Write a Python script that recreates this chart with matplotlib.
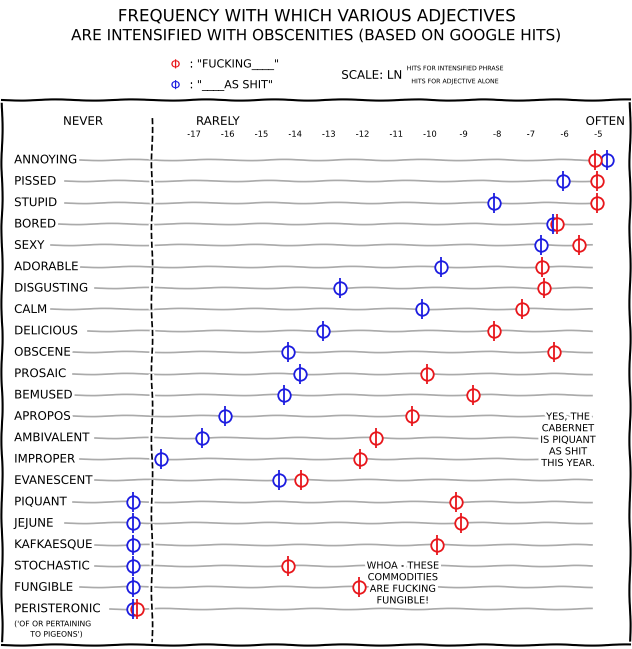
import matplotlib
matplotlib.use("Agg")
import matplotlib.pyplot as plt
import numpy as np

adjectives = ["ANNOYING","PISSED","STUPID","BORED","SEXY","ADORABLE","DISGUSTING","CALM",
              "DELICIOUS","OBSCENE","PROSAIC","BEMUSED","APROPOS","AMBIVALENT","IMPROPER",
              "EVANESCENT","PIQUANT","JEJUNE","KAFKAESQUE","STOCHASTIC","FUNGIBLE","PERISTERONIC"]
fucking = [-5.10,-5.04,-5.04,-6.23,-5.58,-6.67,-6.61,-7.27,-8.10,-6.32,-10.09,-8.72,-10.53,
           -11.60,-12.07,-13.82,-9.23,-9.08,-9.79,-14.21,-12.10,-18.7]
as_shit = [-4.74,-6.05,-8.10,-6.35,-6.70,-9.67,-12.67,-10.23,-13.17,-14.21,-13.85,-14.33,-16.08,
           -16.76,-17.98,-14.48,-18.8,-18.8,-18.8,-18.8,-18.8,-18.8]
ticks = list(range(-17,-4))

plt.xkcd(scale=0.6, length=80, randomness=2)
plt.rcParams['font.family'] = 'DejaVu Sans'
fig = plt.figure(figsize=(6.32,6.49), dpi=100)
ax = fig.add_axes([2/632, 4/649, 628/632, 545/649])
ax.set_xlim(-22.70, -4.06)
ax.set_ylim(22.7, -2.8)
ax.set_xticks([]); ax.set_yticks([])
for s in ax.spines.values():
    s.set_linewidth(1.5)

red, blue = '#e8161b', '#1c1ce0'
fs = 8.5
for i, name in enumerate(adjectives):
    ax.text(-22.34, i, name, fontsize=fs, va='center', ha='left')
    start = -22.34 + len(name)*0.22 + 0.2
    ax.plot([start, -5.2], [i, i], color='#aaaaaa', lw=1.2, zorder=1)
    for v, c in ((as_shit[i], blue), (fucking[i], red)):
        m1, = ax.plot(v, i, marker='o', ms=9, mfc='white', mec=c, mew=1.3, zorder=3, ls='none')
        m2, = ax.plot(v, i, marker='|', ms=14, mec=c, mew=1.3, zorder=4, ls='none')
        for m in (m1, m2):
            m.set_sketch_params(None); m.set_path_effects([])
for t in ticks:
    ax.text(t, -1.2, str(t), fontsize=6, ha='center', va='center')
ax.axvline(-18.25, color='black', ls='--', lw=1.2, ymin=0.0, ymax=0.97)
ax.text(-20.3, -1.8, "NEVER", fontsize=8.5, ha='center', va='center')
ax.text(-16.3, -1.8, "RARELY", fontsize=8.5, ha='center', va='center')
ax.text(-4.8, -1.8, "OFTEN", fontsize=8.5, ha='center', va='center')
ax.text(-21.2, 21.95, "('OF OR PERTAINING\n   TO PIGEONS')", fontsize=5.5, ha='center', va='center')

ax.text(-5.9, 13.1, "YES, THE\nCABERNET\nIS PIQUANT\nAS SHIT\nTHIS YEAR.", fontsize=7, ha='center', va='center')
ax.text(-10.8, 19.8, "WHOA - THESE\nCOMMODITIES\nARE FUCKING\nFUNGIBLE!", fontsize=7, ha='center', va='center')

fig.text(0.5, 0.975, "FREQUENCY WITH WHICH VARIOUS ADJECTIVES", fontsize=12, ha='center', va='center')
fig.text(0.5, 0.945, "ARE INTENSIFIED WITH OBSCENITIES (BASED ON GOOGLE HITS)", fontsize=11, ha='center', va='center')
fig.text(0.27, 0.900, "\u03a6", color=red, fontsize=9, ha='left', va='center')
fig.text(0.30, 0.900, ': "FUCKING____"', fontsize=8, ha='left', va='center')
fig.text(0.27, 0.868, "\u03a6", color=blue, fontsize=9, ha='left', va='center')
fig.text(0.30, 0.868, ': "____AS SHIT"', fontsize=8, ha='left', va='center')
fig.text(0.54, 0.884, "SCALE: LN", fontsize=8.5, ha='left', va='center')
fig.text(0.72, 0.894, "HITS FOR INTENSIFIED PHRASE", fontsize=4.5, ha='center', va='center')
fig.text(0.72, 0.874, "HITS FOR ADJECTIVE ALONE", fontsize=4.5, ha='center', va='center')
fig.savefig("out.png", dpi=100)
